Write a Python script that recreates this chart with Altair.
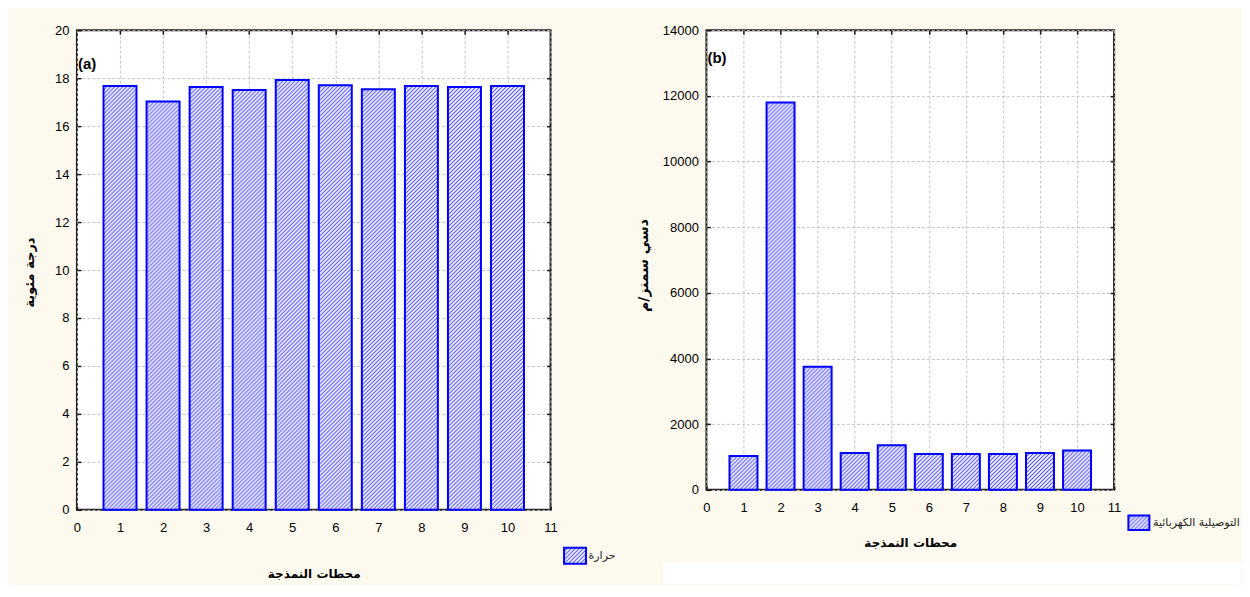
import altair as alt
import pandas as pd
from urllib.parse import quote

# ---------------- data ----------------
stations = [1, 2, 3, 4, 5, 6, 7, 8, 9, 10]
temperature = [17.67, 17.03, 17.63, 17.51, 17.92, 17.71, 17.54, 17.67, 17.63, 17.67]
conductivity = [1030, 11800, 3750, 1120, 1360, 1090, 1090, 1090, 1120, 1200]

x_ticks = list(range(0, 12))
temp_ticks = list(range(0, 21, 2))
cond_ticks = list(range(0, 14001, 2000))

x_title = "محطات النمذجة"
temp_title = "درجة مئوية"
cond_title = "دسي سمنز/م"
temp_legend = "حرارة"
cond_legend = "التوصيلية الكهربائية"

# ---------------- style ----------------
CREAM = "#fdf9ee"
FRAME = "#1a1a1a"
GRID = "#c4c4c4"
BLUE = "#0000ff"
NUM_FONT = "Liberation Sans"
AR_FONT = "DejaVu Sans"


def hatch_url(w, h, c1="#4a4aff", c2="#fafaff"):
    """Data-URI SVG of a w x h box filled with '/' hatching (4px tile)."""
    svg = (
        f"<svg xmlns='http://www.w3.org/2000/svg' width='{w:.2f}' height='{h:.2f}' "
        f"viewBox='0 0 {w:.2f} {h:.2f}' preserveAspectRatio='none'>"
        "<defs><pattern id='p' width='4' height='4' patternUnits='userSpaceOnUse'>"
        f"<rect width='4' height='4' fill='{c2}'/>"
        f"<path d='M-1,1 l2,-2 M0,4 l4,-4 M3,5 l2,-2' stroke='{c1}' stroke-width='1.05'/>"
        "</pattern></defs>"
        f"<rect width='{w:.2f}' height='{h:.2f}' fill='url(#p)'/></svg>"
    )
    return "data:image/svg+xml;charset=utf-8," + quote(svg)


one = pd.DataFrame({"k": [0]})


def panel(vals, ymax, yticks, W, H, bar_w, ytitle, ytitle_size, ytitle_x, ytitle_y, xtitle_y,
          tag, tag_y, leg_box, leg_label, leg_xy, leg_size, extra):
    df = pd.DataFrame({"station": stations, "val": vals})
    xs = alt.Scale(domain=[0, 11], nice=False, zero=False, padding=0)
    ys = alt.Scale(domain=[0, ymax], nice=False, padding=0)

    ax_bottom = alt.Axis(
        values=x_ticks, format="d", labelFlush=False, labelOverlap=False,
        labelFont=NUM_FONT, labelFontSize=13, labelColor="black", labelPadding=12,
        ticks=True, tickSize=4, tickColor=FRAME, tickWidth=1.5, offset=-4,
        domain=False, grid=True, gridColor=GRID, gridDash=[3, 2], gridWidth=1,
        title=x_title, titleFont=AR_FONT, titleFontSize=12, titleFontWeight="bold",
        titleColor="black", titleY=xtitle_y, titleBaseline="middle",
    )
    ax_left = alt.Axis(
        values=yticks, format="d", labelFlush=False, labelOverlap=False,
        labelFont=NUM_FONT, labelFontSize=13, labelColor="black", labelPadding=8,
        ticks=True, tickSize=4, tickColor=FRAME, tickWidth=1.5, offset=-4,
        domain=False, grid=True, gridColor=GRID, gridDash=[3, 2], gridWidth=1,
        title=ytitle, titleFont=AR_FONT, titleFontSize=ytitle_size, titleFontWeight="bold",
        titleColor="black", titleX=ytitle_x, titleY=ytitle_y, titleBaseline="middle",
    )
    ax_top = alt.Axis(
        orient="top", values=x_ticks[1:-1], labels=False, domain=False, grid=False,
        ticks=True, tickSize=4, tickColor=FRAME, tickWidth=1.5, offset=-4, title=None,
    )
    ax_right = alt.Axis(
        orient="right", values=yticks[1:-1], labels=False, domain=False, grid=False,
        ticks=True, tickSize=4, tickColor=FRAME, tickWidth=1.5, offset=-4, title=None,
    )

    layers = []
    # small cream corner rect fixing the chart's top-left bound
    layers.append(
        alt.Chart(one).mark_rect(fill=CREAM).encode(
            x=alt.value(-68), x2=alt.value(-60), y=alt.value(-21), y2=alt.value(-15)
        )
    )
    # hatched fill of every bar (one image per bar, sized from its value)
    for s, v in zip(stations, vals):
        h = v / ymax * H
        layers.append(
            alt.Chart(df).transform_filter(alt.datum.station == s)
            .mark_image(url=hatch_url(bar_w, h), width=bar_w, height=h,
                        align="center", baseline="bottom", aspect=False)
            .encode(
                x=alt.X("station:Q", scale=xs, axis=None),
                y=alt.YDatum(0, scale=ys, axis=None),
            )
        )
    # bar outlines, carrying the main axes
    layers.append(
        alt.Chart(df).mark_bar(size=bar_w, filled=False, stroke=BLUE, strokeWidth=2).encode(
            x=alt.X("station:Q", scale=xs, axis=ax_bottom),
            y=alt.Y("val:Q", scale=ys, axis=ax_left),
        )
    )
    layers.append(
        alt.Chart(df).mark_point(opacity=0).encode(
            x=alt.X("station:Q", scale=xs, axis=ax_top),
            y=alt.Y("val:Q", scale=ys, axis=ax_right),
        )
    )
    layers.append(
        alt.Chart(one).mark_text(
            text=tag, align="left", baseline="middle", font=NUM_FONT,
            fontSize=15, fontWeight="bold", color="black",
        ).encode(x=alt.value(1), y=alt.value(tag_y))
    )
    bx1, bx2, by1, by2 = leg_box
    layers.append(
        alt.Chart(one).mark_image(
            url=hatch_url(bx2 - bx1, by2 - by1), width=bx2 - bx1, height=by2 - by1,
            align="left", baseline="top", aspect=False,
        ).encode(x=alt.value(bx1), y=alt.value(by1))
    )
    layers.append(
        alt.Chart(one).mark_rect(filled=False, stroke=BLUE, strokeWidth=2).encode(
            x=alt.value(bx1), x2=alt.value(bx2), y=alt.value(by1), y2=alt.value(by2)
        )
    )
    layers.append(
        alt.Chart(one).mark_text(
            text=leg_label, align="left", baseline="middle", font=AR_FONT,
            fontSize=leg_size, color="#222222",
        ).encode(x=alt.value(leg_xy[0]), y=alt.value(leg_xy[1]))
    )
    layers += extra
    return (
        alt.layer(*layers)
        .resolve_axis(x="independent", y="independent")
        .properties(width=W, height=H)
    )


left = panel(
    temperature, 20, temp_ticks, 474, 480, 33,
    temp_title, 13, -51, 242, 68,
    "(a)", 34, (487.5, 509.5, 518, 534), temp_legend, (512, 526), 11, [],
)

white_corner = alt.Chart(one).mark_rect(fill="white").encode(
    x=alt.value(-43), x2=alt.value(535), y=alt.value(533), y2=alt.value(554)
)

right = panel(
    conductivity, 14000, cond_ticks, 408, 460, 28,
    cond_title, 14, -67, 235, 57,
    "(b)", 28, (422.3, 443.3, 485.7, 500.3), cond_legend, (447, 493), 11, [white_corner],
)

chart = (
    alt.hconcat(left, right, spacing=156, bounds="flush")
    .properties(background=CREAM, padding={"left": 0, "top": 0, "right": 0, "bottom": 0})
    .configure_view(stroke=FRAME, strokeWidth=2, fill="white")
)

chart.save("out.html", embed_options={"renderer": "svg", "actions": False})
